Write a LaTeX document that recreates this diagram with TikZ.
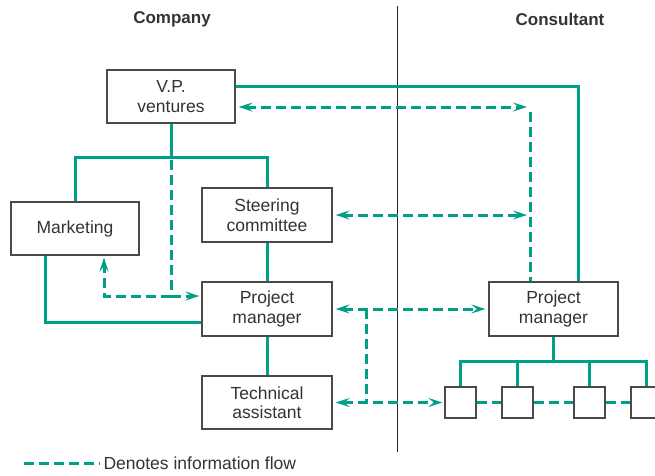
\documentclass[tikz,border=0pt]{standalone}
\usepackage{fontspec}
\setmainfont{Liberation Sans}
\usetikzlibrary{arrows.meta}
\definecolor{flowgreen}{HTML}{00A088}
\definecolor{boxgray}{HTML}{4A4A4A}
\definecolor{textgray}{HTML}{333333}

\begin{document}
\begin{tikzpicture}[x=1pt,y=-1pt,
    box/.style={draw=boxgray, line width=1.3pt, fill=white, text=textgray, align=center,
        minimum width=130pt, minimum height=54pt, inner sep=0pt,
        font=\fontsize{17.5}{19.5}\selectfont},
    smallbox/.style={draw=boxgray, line width=1.3pt, fill=white, minimum size=31pt, inner sep=0pt},
    head/.style={text=textgray, font=\fontsize{17}{19}\selectfont\bfseries},
    line/.style={draw=flowgreen, line width=3pt},
    flow/.style={draw=flowgreen, line width=3pt, dash pattern=on 10pt off 5pt,
        arrows={-}, >={Stealth[length=14pt,width=9pt,inset=5.5pt]}}]
    \useasboundingbox (0,0) rectangle (655,475);
    % Ueberschriften:
    \node[head] (company) at (172,19) {Company};
    \node[head] (consultant) at (560,19) {Consultant};
    \draw[black!85, line width=0.9pt] (397,6) -- (397,452); % Trennstrich
    % Hilfspunkte:
    \coordinate (split) at (171,157);
    \coordinate (vd) at (171,296);
    \coordinate (cr) at (530,107);
    \coordinate (br) at (366,309);
    \coordinate (tree) at (553.5,361);
    % solide Linien zuerst:
    \draw[line] (171,96) -- (split);
    \draw[line] (75,228) |- (split) -| (267,215);
    \draw[line] (267,215) -- (267,402);
    \draw[line] (45,228) |- (267,322);
    \draw[line] (171,86) -| (578,309);
    \draw[line] (553.5,309) -- (tree);
    % Kaestchen Firma:
    \node[box, minimum width=128pt, minimum height=53pt] (vp) at (171,96.5) {V.P.\\ventures};
    \node[box, minimum width=128pt, minimum height=53pt] (mkt) at (75,228.5) {Marketing};
    \node[box] (steer) at (267,215) {Steering\\committee};
    \node[box] (pm) at (267,309) {Project\\manager};
    \node[box, minimum height=53pt] (ta) at (267,402.5) {Technical\\assistant};
    % Kaestchen Berater:
    \node[box, minimum width=129pt] (cpm) at (553.5,309) {Project\\manager};
    \node[smallbox] (s1) at (460.5,402.5) {};
    \node[smallbox] (s2) at (517.5,402.5) {};
    \node[smallbox] (s3) at (589.5,402.5) {};
    \node[smallbox] (s4) at (646.5,402.5) {};
    \draw[line] (s1.north) |- (tree) -| (s4.north);
    \foreach \s in {s2,s3}
        \draw[line] (\s.north) -- (\s.north |- tree);
    % Informationsfluss:
    \draw[flow] ([yshift=-3pt]split) -- (vd);
    \draw[flow,->] (vd) -| ([xshift=29pt,yshift=-2pt]mkt.south);
    \draw[flow,->] (vd) -- ([xshift=-2pt]pm.west |- vd);
    \draw[flow,<->] ([xshift=3pt]vp.east |- cr) -- ([xshift=-3pt]cr);
    \draw[flow] ([yshift=-5pt]cr) -- (cr |- cpm.north);
    \draw[flow,<->] ([xshift=3pt]steer.east) -- ([xshift=-3pt]steer.east -| cr);
    \draw[flow,<->] ([xshift=3pt]pm.east) -- ([xshift=-3pt]cpm.west);
    \draw[flow] (br) -- (br |- ta.east);
    \draw[flow,<->] ([xshift=3pt]ta.east) -- ([xshift=-2pt]s1.west);
    \draw[flow] (s1) -- (s2);
    \draw[flow] (s2) -- (s3);
    \draw[flow] (s3) -- (s4);
    % Legende:
    \node[anchor=west, text=textgray, font=\fontsize{17.5}{19.5}\selectfont] (legend) at (100,463) {Denotes information flow};
    \coordinate (lg) at (24,463);
    \draw[flow] (lg) -- (legend.west);
\end{tikzpicture}
\end{document}
